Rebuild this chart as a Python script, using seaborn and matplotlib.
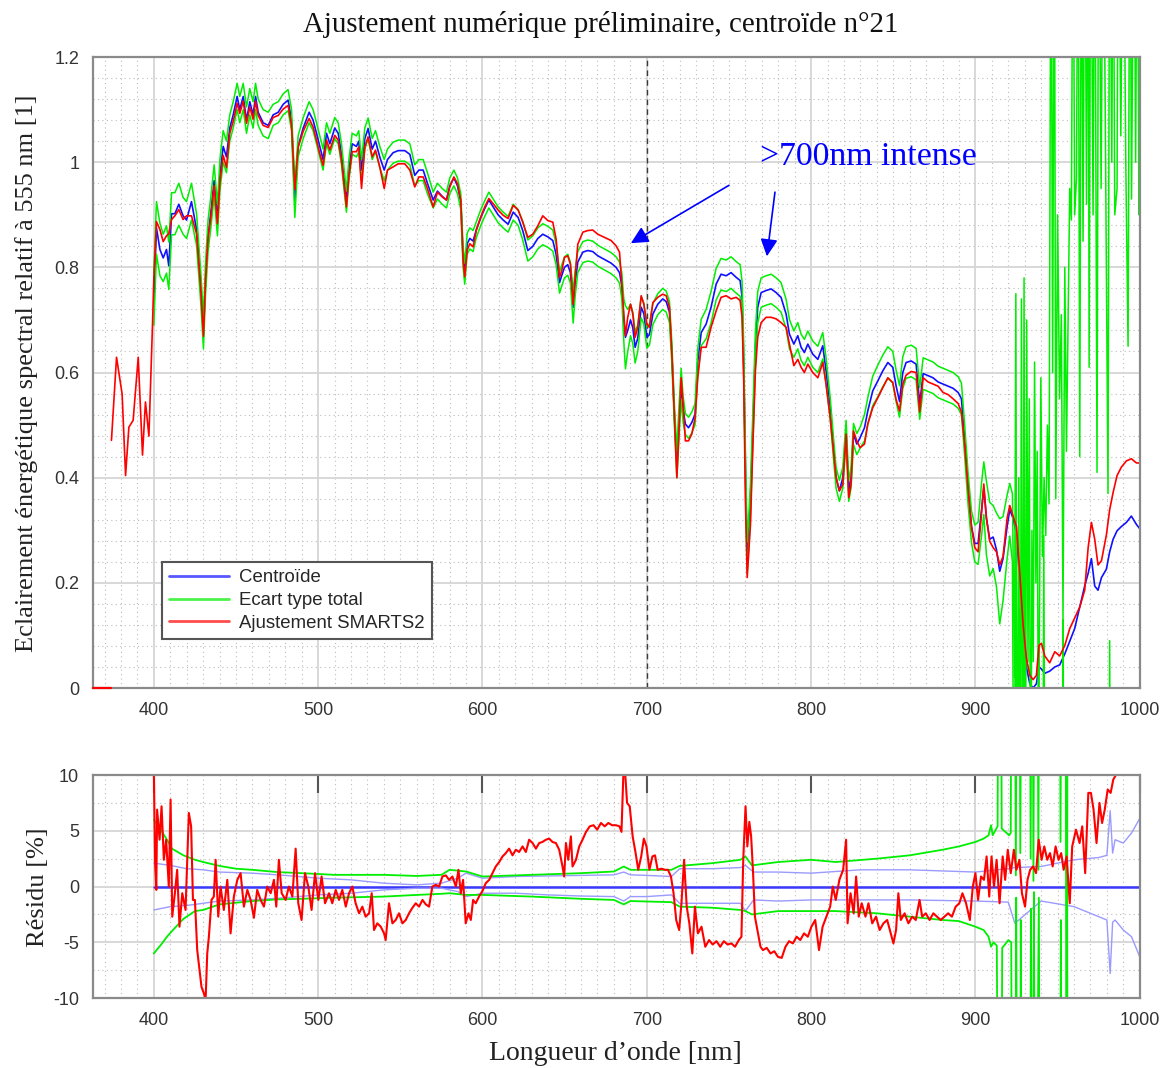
import numpy as np
import pandas as pd
import matplotlib
matplotlib.use("Agg")
import matplotlib.pyplot as plt
from matplotlib.ticker import MultipleLocator, FuncFormatter
import seaborn as sns

# ---------------------------------------------------------------- data
# Mesure UV du spectre ajusté (avant 400 nm)
wl_uv_zero = [363.0, 373.8]
fit_uv_zero = [0.0, 0.0]
wl_uv = [374.2, 377.3, 380.7, 382.8, 384.8, 387.4, 390.5, 393.1, 394.9, 397.0, 399.2]
fit_uv = [0.471, 0.629, 0.559, 0.404, 0.496, 0.509, 0.629, 0.443, 0.544, 0.479, 0.692]

# Longueurs d'onde [nm]
wl = [400.0, 401.6, 403.7, 405.7, 407.7, 409.1, 410.8, 412.8, 415.2, 417.8, 419.9, 422.9,
      426.0, 428.6, 430.2, 431.4, 433.0, 434.7, 436.7, 438.7, 440.2, 442.2, 444.2, 446.2,
      448.3, 450.7, 452.3, 454.4, 456.4, 458.4, 460.4, 461.9, 463.5, 466.5, 469.6, 472.6,
      475.7, 478.7, 481.7, 483.8, 485.8, 487.8, 490.9, 494.5, 496.9, 499.0, 501.0, 503.0,
      505.1, 507.1, 510.1, 512.2, 514.2, 517.2, 518.7, 520.7, 523.3, 524.7, 526.4, 528.4,
      530.4, 532.9, 534.9, 537.5, 540.2, 542.2, 545.6, 548.7, 552.7, 555.8, 558.8, 561.3,
      563.9, 566.5, 570.0, 572.6, 575.5, 578.1, 580.1, 582.6, 584.8, 586.8, 588.2, 589.2,
      590.7, 592.3, 594.3, 596.3, 599.0, 601.4, 603.9, 606.5, 609.5, 612.6, 615.6, 618.7,
      621.7, 624.5, 627.6, 630.6, 633.7, 636.7, 639.8, 642.8, 644.8, 646.9, 648.3, 649.9,
      651.9, 653.5, 655.2, 656.4, 658.0, 661.1, 664.1, 667.1, 670.2, 674.2, 678.3, 681.3,
      683.4, 684.8, 686.0, 687.0, 688.4, 690.1, 691.5, 692.9, 694.5, 696.6, 698.2, 700.0,
      701.6, 703.7, 706.7, 709.7, 711.8, 713.8, 715.2, 716.8, 718.3, 719.5, 720.9, 722.1,
      723.5, 725.4, 727.4, 729.4, 731.0, 733.1, 736.1, 739.1, 742.2, 745.2, 748.3, 751.3,
      754.4, 756.8, 758.0, 759.0, 760.0, 761.1, 762.1, 763.1, 764.5, 766.1, 767.5, 769.6,
      772.6, 775.7, 778.7, 781.7, 784.8, 786.8, 789.5, 791.9, 793.9, 795.9, 798.0, 801.0,
      804.1, 807.1, 809.1, 811.6, 813.6, 815.2, 817.2, 819.3, 821.3, 822.9, 824.3, 825.8,
      827.8, 829.8, 832.5, 834.5, 837.5, 840.6, 843.6, 846.7, 849.7, 851.7, 853.8, 855.8,
      857.8, 860.9, 863.9, 866.1, 868.2, 871.2, 874.2, 877.3, 880.3, 883.4, 886.4, 889.5,
      891.5, 893.5, 895.5, 897.6, 899.6, 901.6, 903.7, 905.1, 906.7, 908.7, 910.8, 912.8,
      914.8, 916.8, 919.3, 920.9, 922.9, 925.0, 927.0, 929.0, 931.0, 933.1, 935.1, 937.1,
      938.7, 940.2, 942.2, 945.2, 948.3, 951.3, 954.4, 957.4, 960.4, 963.5, 966.5, 968.6,
      970.6, 972.6, 974.6, 976.7, 979.7, 981.7, 983.8, 986.2, 988.8, 991.9, 994.9, 998.0,
      1000.0]

# Ajustement SMARTS2 (relatif à 555 nm)
ajustement = [0.780, 0.887, 0.872, 0.849, 0.860, 0.864, 0.891, 0.898, 0.910, 0.891, 0.898, 0.898,
              0.864, 0.757, 0.669, 0.772, 0.856, 0.895, 0.956, 0.883, 0.963, 1.013, 0.990, 1.055,
              1.078, 1.112, 1.093, 1.116, 1.074, 1.105, 1.082, 1.116, 1.089, 1.070, 1.066, 1.085,
              1.089, 1.101, 1.108, 1.070, 0.948, 1.028, 1.059, 1.083, 1.067, 1.042, 1.016, 0.994,
              1.042, 1.023, 1.051, 1.042, 1.004, 0.915, 0.972, 1.020, 1.020, 1.029, 0.950, 1.029,
              1.048, 1.010, 1.023, 0.991, 0.950, 0.985, 0.991, 0.997, 0.997, 0.985, 0.953, 0.972,
              0.972, 0.950, 0.915, 0.943, 0.934, 0.928, 0.953, 0.972, 0.959, 0.928, 0.814, 0.782,
              0.833, 0.845, 0.839, 0.871, 0.896, 0.915, 0.931, 0.921, 0.909, 0.899, 0.893, 0.918,
              0.909, 0.886, 0.857, 0.863, 0.879, 0.898, 0.889, 0.886, 0.854, 0.781, 0.794, 0.819,
              0.822, 0.806, 0.730, 0.781, 0.844, 0.867, 0.870, 0.871, 0.863, 0.857, 0.851, 0.841,
              0.829, 0.768, 0.711, 0.670, 0.705, 0.730, 0.711, 0.667, 0.686, 0.746, 0.730, 0.692,
              0.686, 0.733, 0.743, 0.749, 0.746, 0.724, 0.641, 0.514, 0.400, 0.483, 0.590, 0.540,
              0.470, 0.470, 0.483, 0.514, 0.590, 0.648, 0.648, 0.686, 0.717, 0.743, 0.746, 0.740,
              0.743, 0.737, 0.705, 0.584, 0.362, 0.210, 0.260, 0.311, 0.457, 0.603, 0.667, 0.695,
              0.705, 0.705, 0.702, 0.695, 0.686, 0.654, 0.613, 0.625, 0.610, 0.600, 0.616, 0.600,
              0.590, 0.619, 0.578, 0.514, 0.451, 0.400, 0.375, 0.387, 0.483, 0.362, 0.387, 0.489,
              0.470, 0.457, 0.464, 0.502, 0.533, 0.552, 0.571, 0.590, 0.581, 0.549, 0.527, 0.578,
              0.595, 0.602, 0.600, 0.525, 0.590, 0.582, 0.578, 0.574, 0.562, 0.558, 0.550, 0.541,
              0.525, 0.461, 0.380, 0.307, 0.267, 0.259, 0.331, 0.388, 0.323, 0.279, 0.267, 0.259,
              0.234, 0.250, 0.323, 0.347, 0.327, 0.307, 0.218, 0.121, 0.057, 0.024, 0.016, 0.024,
              0.081, 0.085, 0.061, 0.048, 0.069, 0.061, 0.081, 0.113, 0.133, 0.154, 0.186, 0.267,
              0.315, 0.283, 0.234, 0.242, 0.291, 0.339, 0.372, 0.404, 0.420, 0.432, 0.436, 0.428,
              0.428]

# Centroïde n°21
centroide = [0.740, 0.875, 0.834, 0.818, 0.834, 0.803, 0.902, 0.902, 0.920, 0.898, 0.890, 0.925,
             0.872, 0.760, 0.675, 0.775, 0.860, 0.905, 0.965, 0.890, 0.975, 1.030, 1.010, 1.065,
             1.090, 1.125, 1.100, 1.125, 1.080, 1.115, 1.090, 1.125, 1.095, 1.075, 1.070, 1.090,
             1.095, 1.110, 1.118, 1.080, 0.925, 1.030, 1.065, 1.095, 1.080, 1.055, 1.030, 1.005,
             1.055, 1.035, 1.065, 1.055, 1.015, 0.925, 0.985, 1.035, 1.030, 1.040, 0.985, 1.045,
             1.064, 1.025, 1.040, 1.010, 0.985, 1.005, 1.018, 1.022, 1.022, 1.015, 0.975, 0.985,
             0.985, 0.960, 0.928, 0.945, 0.935, 0.928, 0.955, 0.970, 0.955, 0.925, 0.820, 0.788,
             0.845, 0.855, 0.850, 0.872, 0.895, 0.912, 0.928, 0.915, 0.900, 0.890, 0.882, 0.905,
             0.895, 0.870, 0.832, 0.840, 0.855, 0.863, 0.858, 0.851, 0.825, 0.771, 0.785, 0.800,
             0.805, 0.790, 0.724, 0.770, 0.810, 0.829, 0.832, 0.830, 0.822, 0.815, 0.808, 0.800,
             0.790, 0.765, 0.700, 0.667, 0.680, 0.700, 0.685, 0.648, 0.665, 0.724, 0.712, 0.667,
             0.672, 0.711, 0.730, 0.740, 0.735, 0.715, 0.640, 0.520, 0.425, 0.500, 0.578, 0.530,
             0.502, 0.495, 0.505, 0.521, 0.620, 0.676, 0.692, 0.724, 0.768, 0.787, 0.784, 0.790,
             0.781, 0.775, 0.743, 0.620, 0.425, 0.248, 0.300, 0.360, 0.489, 0.648, 0.724, 0.752,
             0.756, 0.759, 0.752, 0.743, 0.711, 0.673, 0.654, 0.670, 0.648, 0.638, 0.654, 0.635,
             0.625, 0.651, 0.603, 0.533, 0.457, 0.400, 0.375, 0.400, 0.489, 0.375, 0.400, 0.483,
             0.464, 0.476, 0.495, 0.527, 0.565, 0.584, 0.603, 0.619, 0.610, 0.575, 0.545, 0.600,
             0.619, 0.622, 0.616, 0.541, 0.598, 0.594, 0.590, 0.582, 0.578, 0.574, 0.570, 0.562,
             0.550, 0.469, 0.380, 0.307, 0.275, 0.275, 0.339, 0.380, 0.323, 0.283, 0.287, 0.263,
             0.222, 0.246, 0.307, 0.339, 0.323, 0.291, 0.202, 0.105, 0.040, 0.008, 0.000, 0.008,
             0.040, 0.036, 0.028, 0.032, 0.040, 0.044, 0.065, 0.089, 0.113, 0.154, 0.194, 0.218,
             0.246, 0.194, 0.186, 0.210, 0.226, 0.259, 0.283, 0.299, 0.307, 0.315, 0.327, 0.311,
             0.303]

# Ecart type total (jusqu'à 921 nm ; au-delà voir les séries bruitées)
ecart = [0.050, 0.050, 0.050, 0.045, 0.045, 0.045, 0.040, 0.040, 0.040, 0.035, 0.035, 0.035,
         0.030, 0.030, 0.030, 0.030, 0.030, 0.030, 0.030, 0.030, 0.030, 0.030, 0.030, 0.025,
         0.025, 0.025, 0.025, 0.025, 0.025, 0.025, 0.025, 0.025, 0.025, 0.025, 0.025, 0.020,
         0.020, 0.020, 0.020, 0.020, 0.030, 0.020, 0.020, 0.020, 0.020, 0.020, 0.020, 0.020,
         0.020, 0.020, 0.020, 0.020, 0.020, 0.020, 0.020, 0.020, 0.020, 0.020, 0.020, 0.020,
         0.020, 0.020, 0.020, 0.020, 0.020, 0.020, 0.020, 0.020, 0.020, 0.020, 0.020, 0.020,
         0.020, 0.020, 0.015, 0.015, 0.015, 0.015, 0.015, 0.015, 0.015, 0.015, 0.020, 0.020,
         0.020, 0.020, 0.020, 0.015, 0.015, 0.015, 0.015, 0.015, 0.015, 0.015, 0.015, 0.015,
         0.015, 0.018, 0.020, 0.020, 0.020, 0.020, 0.020, 0.020, 0.020, 0.020, 0.020, 0.020,
         0.020, 0.020, 0.030, 0.025, 0.020, 0.020, 0.020, 0.020, 0.020, 0.020, 0.020, 0.020,
         0.020, 0.025, 0.040, 0.060, 0.040, 0.030, 0.030, 0.030, 0.025, 0.020, 0.020, 0.020,
         0.020, 0.020, 0.020, 0.020, 0.020, 0.020, 0.020, 0.020, 0.025, 0.030, 0.030, 0.025,
         0.020, 0.020, 0.020, 0.020, 0.025, 0.025, 0.028, 0.030, 0.030, 0.030, 0.030, 0.030,
         0.030, 0.030, 0.030, 0.030, 0.030, 0.030, 0.030, 0.030, 0.030, 0.030, 0.030, 0.028,
         0.028, 0.028, 0.028, 0.028, 0.028, 0.028, 0.025, 0.025, 0.025, 0.025, 0.025, 0.025,
         0.025, 0.025, 0.025, 0.020, 0.020, 0.020, 0.020, 0.020, 0.020, 0.020, 0.020, 0.020,
         0.020, 0.020, 0.025, 0.025, 0.028, 0.030, 0.030, 0.030, 0.030, 0.030, 0.030, 0.030,
         0.030, 0.030, 0.030, 0.030, 0.030, 0.030, 0.030, 0.030, 0.030, 0.030, 0.030, 0.030,
         0.030, 0.030, 0.030, 0.030, 0.035, 0.040, 0.050, 0.050, 0.070, 0.070, 0.060, 0.070,
         0.100, 0.080, 0.060, 0.050, np.nan, np.nan, np.nan, np.nan, np.nan, np.nan, np.nan, np.nan,
         np.nan, np.nan, np.nan, np.nan, np.nan, np.nan, np.nan, np.nan, np.nan, np.nan, np.nan, np.nan,
         np.nan, np.nan, np.nan, np.nan, np.nan, np.nan, np.nan, np.nan, np.nan, np.nan, np.nan, np.nan,
         np.nan]

# Bande d'absorption de l'eau : bornes haute et basse de l'écart type
wl_bruit_haut = [920.9, 922.5, 923.8, 924.6, 925.4, 926.4, 927.2, 928.0, 928.8, 929.6, 930.4, 931.2,
                 932.0, 932.8, 933.6, 934.4, 935.2, 936.0, 936.8, 937.6, 938.4, 939.8, 940.8, 941.8,
                 942.8, 943.8, 944.8, 946.0, 947.0, 948.0, 948.9, 950.0, 951.2, 952.3, 953.3, 954.4,
                 955.4, 956.4, 957.4, 958.4, 959.4, 960.4, 961.5, 962.5, 963.5, 964.5, 965.5, 966.6,
                 967.6, 968.6, 969.2, 970.2, 971.6, 972.6, 974.0, 975.0, 976.5, 977.8, 979.0, 980.7,
                 981.7, 983.0, 983.8, 984.8, 986.2, 987.0, 988.5, 990.0, 991.5, 992.9, 994.0, 995.0,
                 996.5, 997.5, 998.5, 999.5, 1000.0]
ecart_haut = [0.389, 0.37, 0.02, 0.75, -0.4, 0.40, -0.4, 0.74, -0.4, 0.78, -0.4, 0.70,
              0.05, 0.55, -0.4, 0.30, 0.05, 0.62, 0.20, 0.45, -0.2, 0.59, 0.25, 0.40,
              0.29, 0.50, 0.35, 1.6, 0.60, 1.6, 0.36, 0.90, 0.55, 0.71, 0.13, 0.80,
              0.45, 0.70, 0.95, 0.89, 1.6, 0.90, 0.97, 1.6, 0.44, 1.6, 0.85, 1.6,
              0.92, 1.6, 0.61, 1.6, 0.90, 1.6, 0.41, 1.6, 0.95, 1.6, 1.10, 0.37,
              1.6, 1.00, 1.6, 0.90, 0.95, 1.6, 1.05, 1.6, 1.00, 0.65, 1.6, 0.93,
              1.6, 1.00, 1.6, 0.90, 1.6]
wl_bruit_bas = [920.9, 922.5, 923.6, 924.4, 925.2, 926.6, 927.4, 929.0, 929.8, 930.6, 941.0, 941.6,
                942.4, 953.0, 953.4, 953.8, 981.2, 981.7, 982.2, 1000.0]
ecart_bas = [0.289, 0.24, -0.4, 0.30, -0.4, 0.15, -0.4, -0.4, 0.12, -0.4, -0.4, 0.29,
             -0.4, -0.4, 0.13, -0.4, -0.4, 0.09, -0.4, -0.4]

# Résidu de l'ajustement [%]
wl_res = [400.0, 400.8, 401.5, 402.0, 403.5, 404.7, 406.1, 407.5, 409.1, 410.2, 411.2, 412.8,
          414.2, 415.6, 417.3, 419.3, 421.3, 422.7, 423.8, 425.0, 426.4, 427.8, 429.0, 430.5,
          431.5, 432.5, 433.5, 435.1, 436.5, 437.6, 439.2, 440.6, 442.6, 444.7, 446.7, 448.7,
          450.8, 452.8, 454.8, 456.9, 458.9, 460.9, 462.9, 465.0, 467.0, 469.0, 471.1, 473.1,
          474.5, 476.1, 477.8, 480.2, 482.2, 484.3, 486.3, 487.9, 489.9, 492.0, 494.0, 496.0,
          498.1, 500.1, 502.1, 504.2, 506.6, 508.6, 510.7, 512.7, 514.7, 516.8, 518.8, 520.8,
          522.8, 524.9, 526.9, 528.9, 531.0, 532.6, 534.0, 536.0, 538.1, 540.1, 541.1, 543.1,
          545.2, 547.2, 549.2, 551.3, 553.3, 555.3, 557.4, 559.4, 561.4, 563.5, 565.5, 567.5,
          569.5, 571.6, 573.6, 575.6, 577.7, 579.7, 581.7, 583.8, 585.4, 586.8, 588.2, 589.8,
          591.5, 592.9, 594.3, 595.9, 597.9, 600.0, 602.0, 604.1, 606.1, 608.1, 610.2, 612.2,
          614.2, 616.2, 618.3, 620.3, 622.3, 624.4, 626.4, 628.4, 630.5, 632.5, 634.5, 636.5,
          638.6, 640.6, 642.6, 644.7, 646.7, 648.7, 649.7, 650.8, 652.2, 653.8, 654.8, 656.9,
          658.9, 660.9, 663.0, 665.3, 667.6, 669.8, 672.1, 674.4, 676.6, 678.9, 681.2, 683.4,
          684.6, 685.7, 686.8, 688.0, 689.6, 691.4, 693.2, 694.8, 696.6, 698.2, 699.8, 701.6,
          703.4, 705.0, 706.6, 708.8, 711.1, 712.9, 714.7, 716.3, 717.9, 719.7, 721.1, 722.7,
          724.3, 725.9, 727.7, 729.3, 731.1, 733.3, 735.6, 737.9, 740.1, 742.4, 744.7, 746.9,
          749.2, 751.5, 753.7, 756.0, 757.6, 758.7, 760.1, 761.2, 762.4, 763.5, 764.6, 765.8,
          767.3, 769.2, 770.7, 773.0, 775.3, 777.6, 779.8, 782.1, 784.4, 786.6, 788.9, 791.2,
          793.4, 795.7, 798.0, 800.2, 802.5, 804.8, 807.0, 809.3, 811.6, 813.2, 815.0, 817.2,
          819.5, 821.3, 822.2, 824.0, 825.9, 827.4, 829.0, 830.8, 833.1, 834.9, 837.2, 839.5,
          841.7, 844.0, 846.3, 848.5, 850.1, 851.7, 853.1, 854.6, 856.9, 859.2, 861.5, 863.7,
          866.0, 867.6, 869.8, 872.1, 874.4, 876.6, 878.9, 881.2, 883.4, 885.7, 888.0, 890.2,
          892.1, 894.3, 896.6, 898.4, 900.0, 901.6, 903.4, 905.2, 906.8, 908.4, 909.8, 911.3,
          912.9, 914.7, 916.6, 918.1, 919.7, 921.5, 923.4, 924.9, 926.8, 928.3, 930.2, 931.7,
          933.3, 935.1, 936.9, 938.5, 940.3, 941.9, 943.7, 945.4, 947.0, 948.8, 950.6, 952.2,
          953.7, 955.5, 957.4, 958.9, 961.2, 963.4, 965.0, 966.8, 968.7, 970.3, 971.9, 973.7,
          975.5, 977.1, 978.7, 980.5, 982.3, 983.9, 985.5, 987.3, 990.0, 995.0, 1000.0]
residu = [10.5, 2.0, -0.3, 6.9, 4.2, 7.2, 2.4, 4.2, 0.0, 7.8, -2.7, -0.6,
          1.5, -3.6, -0.6, -2.1, 6.6, 5.4, -1.2, -1.2, -5.7, -7.5, -9.0, -9.6,
          -10.2, -6.0, -4.5, -1.2, -0.9, 2.4, -2.7, 0.0, -2.1, 0.6, -4.2, -0.9,
          0.6, 1.2, -1.8, -0.3, -1.2, -2.8, -0.3, -1.2, -1.8, 0.0, -0.6, 0.6,
          -1.8, 2.4, -0.6, -1.2, 0.0, -0.9, 3.4, -1.5, -3.0, 1.2, 0.0, -2.1,
          1.2, -1.2, 0.9, -1.5, -0.6, -1.5, -0.3, -1.2, -0.3, -1.8, -0.6, 0.0,
          -1.5, -2.4, -1.8, -2.7, -2.4, -0.6, -3.9, -3.3, -3.6, -4.2, -4.8, -1.5,
          -3.3, -3.0, -2.4, -3.3, -3.0, -2.4, -1.9, -1.5, -1.8, -1.2, -1.6, -1.8,
          0.0, 0.15, 0.0, 0.9, 1.0, 0.6, 0.9, 0.0, 1.5, -0.6, 0.6, -3.3,
          -2.4, -3.0, -1.2, -1.5, -0.9, -0.4, 0.3, 0.6, 1.2, 1.8, 2.2, 2.7,
          3.0, 3.4, 2.8, 3.3, 3.1, 3.6, 3.1, 4.2, 3.9, 3.4, 3.9, 4.0,
          4.2, 4.3, 4.0, 3.9, 3.3, 1.8, 0.9, 3.9, 2.4, 4.5, 1.8, 2.4,
          3.6, 4.2, 4.9, 5.4, 5.5, 5.1, 5.7, 5.4, 5.7, 5.5, 5.5, 5.4,
          4.9, 9.9, 10.3, 7.5, 7.2, 4.5, 3.0, 1.5, 2.7, 4.3, 3.6, 1.5,
          2.7, 2.8, 1.5, 1.6, 1.5, 1.5, 0.9, -0.6, -3.0, -3.9, -1.5, 2.4,
          -1.8, -3.3, -6.0, -1.8, -4.2, -3.6, -5.4, -4.8, -5.2, -4.9, -5.4, -4.9,
          -5.2, -5.1, -5.4, -4.8, -4.5, 2.4, 7.2, 3.6, 5.8, 4.5, 1.5, -2.7,
          -3.9, -5.4, -5.7, -5.5, -6.0, -5.8, -6.3, -6.4, -5.4, -4.9, -5.1, -4.5,
          -4.8, -4.2, -4.5, -3.6, -3.0, -5.7, -3.6, -2.7, -1.8, 0.0, -1.2, 0.6,
          1.5, 4.2, -3.3, -0.6, -2.4, 0.9, -2.7, -1.5, -2.7, -1.5, -3.3, -2.7,
          -3.9, -3.3, -3.0, -4.2, -5.1, -3.9, -0.6, -3.0, -2.4, -3.3, -2.7, -3.0,
          -1.2, -2.7, -2.4, -3.0, -2.4, -2.7, -3.0, -2.7, -2.4, -2.7, -1.8, -1.5,
          -0.6, -1.5, -3.0, 0.0, 1.2, -1.2, 0.9, 0.6, 2.7, -0.9, 2.7, 0.0,
          2.4, -1.5, 2.7, 0.6, 3.3, 1.2, 3.3, 1.5, 2.4, -0.6, -1.8, 0.6,
          1.5, 1.8, 1.2, 4.2, 2.4, 3.6, 2.4, 3.0, 1.8, 3.6, 2.4, 3.0,
          1.5, 2.7, -1.5, 3.6, 5.1, 3.9, 5.4, 1.2, 8.4, 8.4, 6.9, 3.9,
          7.5, 5.7, 6.9, 8.7, 8.4, 9.6, 10.0, 11.0, 12.0, 13.0, 14.0]

# Résidu du centroïde (nul par construction)
wl_res_cen = [400.0, 1000.0]
res_cen = [0.0, 0.0]

# Dispersion du centroïde [%]
wl_bande = [400, 410, 420, 430, 440, 460, 480, 500, 520, 540, 560, 575, 585, 590, 600,
            620, 640, 660, 680, 686, 690, 700, 715, 720, 740, 757, 760, 765, 780, 800,
            830, 860, 900, 920, 924, 940, 960, 975, 980, 982, 983.5, 985, 990, 995, 1000]
bande_haut = [2.1, 1.9, 1.6, 1.5, 1.3, 1.2, 1.0, 0.75, 0.6, 0.3, 0.15, 0.3, 0.75, 1.2, 0.75,
              0.9, 0.95, 1.0, 1.05, 1.3, 1.05, 1.0, 0.9, 1.6, 1.6, 1.7, 1.9, 1.3, 1.3, 1.2,
              1.5, 1.5, 1.3, 1.6, 1.7, 1.8, 2.4, 2.6, 2.8, 6.8, 3.0, 4.2, 3.9, 4.8, 6.1]
bande_bas = [-2.1, -1.8, -1.7, -1.5, -1.3, -1.2, -1.0, -0.75, -0.6, -0.3, -0.15, -0.15, -0.45, -0.9, -0.6,
             -0.6, -0.75, -0.85, -0.9, -1.3, -0.9, -0.9, -0.75, -1.5, -1.5, -1.5, -2.2, -1.2, -1.3, -1.2,
             -1.2, -1.2, -1.3, -1.4, -3.3, -1.3, -1.8, -2.7, -3.0, -7.8, -3.2, -3.0, -3.9, -4.5, -6.3]

# Ecart type total relatif [%]
wl_er_haut = [400, 405, 408, 411, 418, 425, 430, 440, 450, 460, 475, 490, 510, 540, 560,
              575, 580, 590, 600, 630, 660, 680, 686, 690, 715, 720, 740, 757, 760, 764,
              780, 800, 815, 840, 860, 880, 890, 900, 905, 908, 909.5, 910.5, 912.0, 913.5,
              914.3, 915.2, 916.0, 917.5, 919.0, 920.5, 921.5, 922.3, 923.5, 924.6, 925.4,
              926.5, 927.3, 928.5, 932.8, 933.6, 934.5, 935.3, 936.2, 937.5, 938.3, 939.2,
              951.0, 951.8, 952.6, 954.8, 955.5, 956.2, 1000.0]
er_haut = [6.0, 4.9, 4.2, 3.4, 2.8, 2.4, 2.2, 1.85, 1.6, 1.5, 1.3, 1.2, 1.05, 1.05, 0.95,
           1.05, 1.5, 1.35, 0.9, 1.05, 1.2, 1.35, 1.8, 1.5, 1.5, 1.85, 2.1, 2.4, 2.7, 1.9,
           2.2, 2.4, 2.2, 2.5, 2.8, 3.3, 3.6, 4.0, 4.3, 4.6, 5.5, 4.6, 5.0, 5.4,
           40, 40, 5.2, 5.0, 4.8, 4.6, 4.8, 40, 40, 1.0, 40,
           40, 3.0, 40, 40, 2.5, 40, 0.5, 40, 40, 1.5, 40,
           40, 4.0, 40, 40, -40, 40, 40]
wl_er_bas = [400, 405, 408, 411, 418, 425, 430, 440, 450, 460, 475, 490, 510, 540, 560,
             575, 580, 590, 600, 630, 660, 680, 686, 690, 715, 720, 740, 757, 760, 764,
             780, 800, 815, 840, 860, 880, 890, 900, 905, 908, 909.5, 911.0, 913.0, 914.5,
             915.5, 916.3, 918.0, 920.0, 921.8, 922.6, 924.0, 924.8, 925.8, 927.0, 927.6,
             928.6, 933.0, 933.8, 934.8, 935.6, 936.5, 938.6, 939.4, 951.2, 952.0, 952.8,
             955.0, 955.8, 956.5, 1000.0]
er_bas = [-6.0, -5.1, -4.5, -4.0, -2.9, -2.2, -2.1, -1.6, -1.45, -1.3, -1.15, -1.1, -1.0, -0.9, -0.75,
          -0.65, -0.6, -0.75, -0.75, -0.9, -1.1, -1.2, -1.6, -1.3, -1.4, -1.8, -1.9, -2.1, -2.2, -2.5,
          -2.2, -2.2, -2.2, -2.4, -2.7, -3.0, -3.1, -3.6, -3.9, -4.5, -5.4, -5.0, -5.3, -40,
          -40, -5.5, -5.2, -4.8, -5.0, -40, -40, -1.0, -40, -40, -3.0,
          -40, -40, -2.0, -40, -0.5, -40, -1.0, -40, -40, -3.0, -40,
          -40, -2.0, -40, -40]

# Annotation
repere_nm = 700
texte_note = ">700nm intense"

# ---------------------------------------------------------------- style
sns.set_style("white")
plt.rcParams["font.family"] = ["Liberation Sans", "DejaVu Sans"]
plt.rcParams["axes.unicode_minus"] = False
SERIF = ["Liberation Serif", "DejaVu Serif"]

BLEU = "#1010ff"
VERT = "#00ee00"
ROUGE = "#ff0000"
BLEU_CLAIR = "#9a9aff"

fig = plt.figure(figsize=(11.63, 10.68), dpi=100)
ax1 = fig.add_axes([0.080, 0.3558, 0.900, 0.5908])
ax2 = fig.add_axes([0.080, 0.0655, 0.900, 0.2088])


def habiller(ax, y0, y1, pas_maj, pas_min, ticks_haut):
    ax.set_xlim(363, 1000)
    ax.set_ylim(y0, y1)
    ax.xaxis.set_major_locator(MultipleLocator(100))
    ax.xaxis.set_minor_locator(MultipleLocator(10))
    ax.yaxis.set_major_locator(MultipleLocator(pas_maj))
    ax.yaxis.set_minor_locator(MultipleLocator(pas_min))
    ax.yaxis.set_major_formatter(FuncFormatter(lambda v, p: f"{v:g}"))
    ax.grid(which="major", color="#d6d6d6", lw=1.3, ls="-")
    ax.grid(which="minor", color="#bdbdbd", lw=0.8, ls=(0, (1, 3)))
    ax.set_axisbelow(True)
    ax.tick_params(which="major", direction="in", length=13, width=1.5,
                   color="#555555", labelsize=13, labelcolor="#333333",
                   top=ticks_haut, right=False, pad=10)
    ax.tick_params(which="minor", length=0)
    for s in ax.spines.values():
        s.set_color("#8a8a8a")
        s.set_linewidth(1.6)


habiller(ax1, 0, 1.2, 0.2, 0.04, False)
habiller(ax2, -10, 10, 5, 2.5, True)

# ---------------------------------------------------------------- top panel
df = pd.DataFrame({"wl": wl, "fit": ajustement, "cen": centroide, "ec": ecart})
normal = df[df["ec"].notna()]
vert_haut = pd.concat([
    pd.DataFrame({"wl": normal["wl"], "v": normal["cen"] + normal["ec"]}),
    pd.DataFrame({"wl": wl_bruit_haut[1:], "v": ecart_haut[1:]})])
vert_bas = pd.concat([
    pd.DataFrame({"wl": normal["wl"], "v": normal["cen"] - normal["ec"]}),
    pd.DataFrame({"wl": wl_bruit_bas[1:], "v": ecart_bas[1:]})])

sns.lineplot(x=df["wl"], y=df["cen"], ax=ax1, color=BLEU, lw=1.2,
             estimator=None, sort=False, label="Centroïde")
sns.lineplot(x=vert_haut["wl"], y=vert_haut["v"], ax=ax1, color=VERT, lw=1.1,
             estimator=None, sort=False, label="Ecart type total")
sns.lineplot(x=vert_bas["wl"], y=vert_bas["v"], ax=ax1, color=VERT, lw=1.1,
             estimator=None, sort=False)
sns.lineplot(x=wl_uv + wl, y=fit_uv + ajustement, ax=ax1, color=ROUGE, lw=1.2,
             estimator=None, sort=False, label="Ajustement SMARTS2")
ligne0 = sns.lineplot(x=wl_uv_zero, y=fit_uv_zero, ax=ax1, color=ROUGE, lw=1.6,
                      estimator=None, sort=False).lines[-1]
ligne0.set_clip_on(False)
ligne0.set_zorder(3)

ax1.axvline(repere_nm, color="#3a3a3a", lw=1.0, ls=(0, (4, 3)), zorder=1.5)

ax1.set_xlabel("")
ax1.set_ylabel("")
handles, labels = ax1.get_legend_handles_labels()
ordre = ["Centroïde", "Ecart type total", "Ajustement SMARTS2"]
hmap = dict(zip(labels, handles))
leg = ax1.legend([hmap[k] for k in ordre], ordre, loc="upper left",
                 bbox_to_anchor=(0.0659, 0.1997), borderaxespad=0,
                 fontsize=13.4, handlelength=3.2, handletextpad=0.55,
                 borderpad=0.4, labelspacing=0.3, fancybox=False,
                 framealpha=1, edgecolor="#555555")
leg.get_frame().set_linewidth(1.5)
for ln in leg.get_lines():
    ln.set_alpha(0.7)
    ln.set_linewidth(2.0)

# arrows and note
fleche = dict(arrowstyle="-|>", color="#0000ff", lw=1.2, mutation_scale=26,
              shrinkA=0, shrinkB=0)
ax1.annotate("", xy=(690.3, 0.846), xytext=(750.0, 0.956), arrowprops=fleche)
ax1.annotate("", xy=(773.1, 0.821), xytext=(778.0, 0.943), arrowprops=fleche)
ax1.text(834.6, 1.0095, texte_note, color="#0000ff", fontsize=24.3,
         family=SERIF, ha="center", va="center")

# ---------------------------------------------------------------- residual panel
sns.lineplot(x=wl_res_cen, y=res_cen, ax=ax2, color="#3a3aff", lw=1.8,
             estimator=None, sort=False)
sns.lineplot(x=wl_bande, y=bande_haut, ax=ax2, color=BLEU_CLAIR, lw=1.0,
             estimator=None, sort=False)
sns.lineplot(x=wl_bande, y=bande_bas, ax=ax2, color=BLEU_CLAIR, lw=1.0,
             estimator=None, sort=False)
sns.lineplot(x=wl_er_haut, y=er_haut, ax=ax2, color=VERT, lw=1.3,
             estimator=None, sort=False)
sns.lineplot(x=wl_er_bas, y=er_bas, ax=ax2, color=VERT, lw=1.3,
             estimator=None, sort=False)
sns.lineplot(x=wl_res, y=residu, ax=ax2, color=ROUGE, lw=1.5,
             estimator=None, sort=False)
ax2.set_xlabel("")
ax2.set_ylabel("")

# ---------------------------------------------------------------- texts
fig.text(0.5168, 0.9766, "Ajustement numérique préliminaire, centroïde n°21",
         family=SERIF, fontsize=20.8, ha="center", va="center", color="#111111")
fig.text(0.0232, 0.6507, "Eclairement énergétique spectral relatif à 555 nm [1]",
         family=SERIF, fontsize=19, rotation=90, ha="center", va="center", color="#222222")
fig.text(0.0327, 0.1695, "Résidu [%]", family=SERIF, fontsize=19, rotation=90,
         ha="center", va="center", color="#222222")
fig.text(0.5288, 0.0140, "Longueur d’onde [nm]", family=SERIF, fontsize=20,
         ha="center", va="center", color="#222222")

fig.savefig("out.png", dpi=100)
